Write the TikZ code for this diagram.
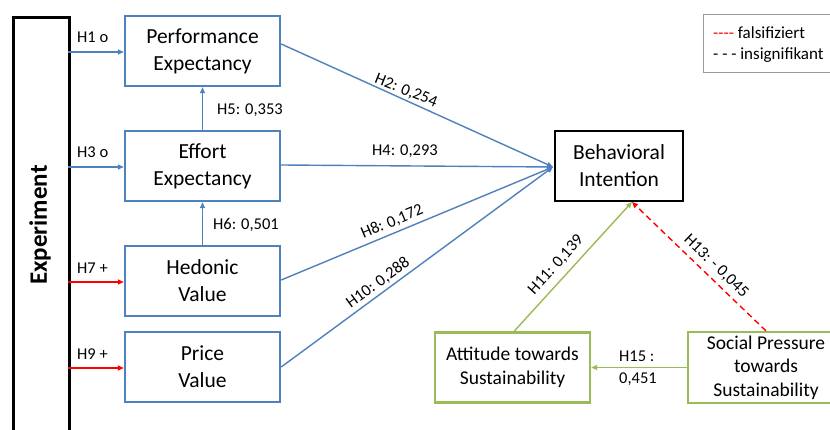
\documentclass[tikz,border=0pt]{standalone}
\usepackage{fontspec}
\setmainfont{Carlito}
\usetikzlibrary{arrows.meta}
\definecolor{cblue}{RGB}{79,129,189}
\definecolor{cgreen}{RGB}{155,187,89}
\definecolor{cred}{RGB}{255,0,0}
\begin{document}
\begin{tikzpicture}[x=1pt,y=-1pt,
  bbox/.style={draw=cblue,line width=2.4pt,minimum width=155pt,minimum height=70pt,align=center,font=\fontsize{21.5}{27}\selectfont,inner sep=0pt},
  gbox/.style={draw=cgreen,line width=2.2pt,align=center,font=\fontsize{19.5}{23.5}\selectfont,inner sep=0pt},
  lab/.style={font=\fontsize{16.5}{20}\selectfont,inner sep=0pt,text=black},
  arr/.style={line width=1.4pt,-{Triangle[length=6pt,width=5pt]}},
]
\useasboundingbox (0,0) rectangle (830,430);
\clip (0,0) rectangle (830,430);
\fill[white] (0,0) rectangle (830,430);
% Experiment
\node[draw=black,line width=2.8pt,minimum width=56pt,minimum height=430pt,anchor=north west,inner sep=0pt] (exp) at (12,16) {};
\node[rotate=90,font=\fontsize{25}{28}\selectfont\bfseries] (exptxt) at (40,225) {Experiment};
% boxes
\node[bbox] (pe) at (202.5,51) {Performance\\Expectancy};
\node[bbox] (ee) at (202.5,166) {Effort\\Expectancy};
\node[bbox] (hv) at (202.5,281) {Hedonic\\Value};
\node[bbox] (pv) at (202.5,367) {Price\\Value};
\node[draw=black,line width=2.4pt,minimum width=128pt,minimum height=70pt,align=center,font=\fontsize{21.5}{27}\selectfont,inner sep=0pt] (bi) at (619,166) {Behavioral\\Intention};
\node[gbox,minimum width=155pt,minimum height=70pt] (att) at (512.5,367.5) {Attitude towards\\Sustainability};
\node[gbox,minimum width=156pt,minimum height=71pt] (sp) at (766,367.5) {Social Pressure\\towards\\Sustainability};
% legend
\node[draw=black!40,line width=1.4pt,minimum width=129pt,minimum height=58pt,anchor=north west,inner sep=0pt] (leg) at (703,14) {};
\node[font=\fontsize{17}{21}\selectfont,align=left,anchor=west,inner sep=0pt] (legtxt) at (713,45) {{\color{cred}-{}-{}-{}-} falsifiziert\\-{} -{} - insignifikant};
% experiment arrows
\coordinate (e1) at (68,52);
\coordinate (e3) at (68,167);
\coordinate (e7) at (68,282);
\coordinate (e9) at (68,368);
\draw[arr,cblue] (e1) -- (pe.west |- e1);
\draw[arr,cblue] (e3) -- (ee.west |- e3);
\draw[arr,cred] (e7) -- (hv.west |- e7);
\draw[arr,cred] (e9) -- (pv.west |- e9);
\node[lab,anchor=west] (l1) at (77,37) {H1 o};
\node[lab,anchor=west] (l3) at (77,152) {H3 o};
\node[lab,anchor=west] (l7) at (77,268) {H7 +};
\node[lab,anchor=west] (l9) at (77,354) {H9 +};
% vertical arrows
\draw[arr,cblue] (ee.north) -- (pe.south);
\draw[arr,cblue] (hv.north) -- (ee.south);
\node[lab,anchor=west] (l5) at (217,110) {H5: 0,353};
\node[lab,anchor=west] (l6) at (213,225) {H6: 0,501};
% to BI
\coordinate (bin) at (553,167);
\draw[arr,cblue] ([yshift=7pt]pe.east) -- (bin);
\draw[arr,cblue] ([yshift=1pt]ee.east) -- (bin);
\draw[arr,cblue] ([yshift=1pt]hv.east) -- (bin);
\draw[arr,cblue] (pv.east) -- (bin);
\node[lab,rotate=-21.8] (l2) at (406,91) {H2: 0,254};
\node[lab] (l4) at (405,151) {H4: 0,293};
\node[lab,rotate=22.8] (l8) at (392,222) {H8: 0,172};
\node[lab,rotate=36.2] (l10) at (378,283) {H10: 0,288};
% green / red
\coordinate (bis) at (632,202);
\draw[arr,cgreen] ([xshift=1.5pt]att.north) -- (bis);
\draw[arr,cred,dashed,dash pattern=on 6pt off 4pt] (sp.north) -- (bis);
\draw[arr,cgreen] (sp.west) -- (att.east);
\node[lab,rotate=47.8] (l11) at (556,265) {H11: 0,139};
\node[lab,rotate=-44] (l13) at (716,266) {H13: - 0,045};
\node[lab,align=left,anchor=west,font=\fontsize{16.5}{22}\selectfont] (l15) at (619,368) {H15 :\\0,451};
\end{tikzpicture}
\end{document}
